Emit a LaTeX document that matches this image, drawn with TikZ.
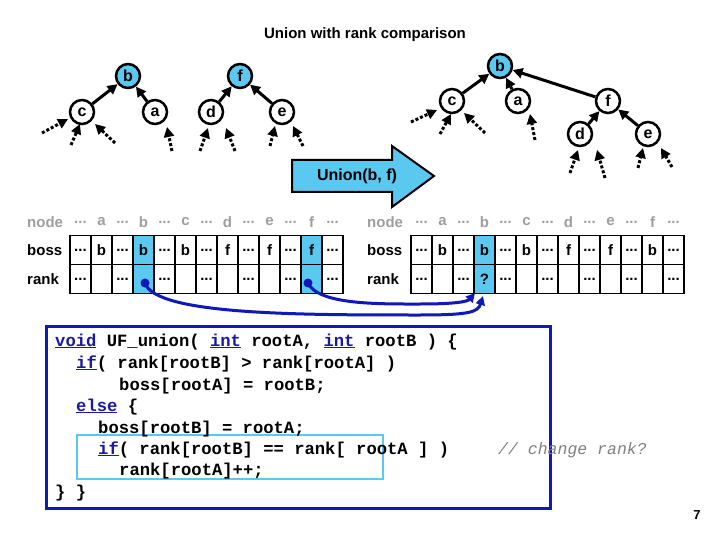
\documentclass[tikz,border=0pt]{standalone}
\usepackage{fontspec}
\setmainfont{Liberation Sans}
\newfontfamily\codefont{Liberation Mono}
\usetikzlibrary{arrows.meta}
\definecolor{cellblue}{HTML}{5BC8F0}
\definecolor{darkblue}{HTML}{1018B8}
\definecolor{kwblue}{HTML}{1A1AA0}
\newcommand\dts{{.}{.}{.}}
\begin{document}
\begin{tikzpicture}[x=1pt,y=-1pt,
  tn/.style={circle,draw,line width=2.5pt,minimum size=24pt,inner sep=0pt,font=\bfseries\fontsize{16}{16}\selectfont,fill=white},
  root/.style={tn,fill=cellblue},
  link/.style={line width=3pt,-{Triangle[length=10pt,width=10pt]},shorten >=0pt},
  dlink/.style={line width=3pt,dash pattern=on 3pt off 2pt,-{Triangle[length=10pt,width=10pt]}},
  cell/.style={draw,line width=1.3pt,minimum width=21pt,minimum height=29pt,inner sep=0pt,font=\bfseries\fontsize{15}{15}\selectfont},
  hcell/.style={cell,fill=cellblue},
  lab/.style={anchor=west,inner sep=0pt,font=\bfseries\fontsize{15}{15}\selectfont},
  hd/.style={font=\bfseries\fontsize{15}{15}\selectfont,text=gray!75},
  code/.style={anchor=base west,inner sep=0pt,font=\codefont\bfseries\fontsize{17.2}{17.2}\selectfont},
  curve/.style={line width=3pt,draw=darkblue,-{Triangle[length=9pt,width=9pt]}}
]
\useasboundingbox (0,0) rectangle (720,540);
\fill[white] (0,0) rectangle (720,540);
\node[font=\bfseries\fontsize{15}{15}\selectfont] (title) at (365,35) {Union with rank comparison};

% left trees
\node[root] (Lb) at (128,76) {b};
\node[tn] (Lc) at (82,112) {c};
\node[tn] (La) at (155,112) {a};
\node[root] (Lf) at (240,76) {f};
\node[tn] (Ld) at (211,112) {d};
\node[tn] (Le) at (282,112) {e};
\draw[link] (Lc) -- (Lb);
\draw[link] (La) -- (Lb);
\draw[link] (Ld) -- (Lf);
\draw[link] (Le) -- (Lf);
\foreach \n/\a/\b/\c/\d in {1/42/133/68/119, 2/71/145/80/124, 3/115/143/95/124, 4/172/151/167/127, 5/200/151/208/128, 6/235/151/226/128, 7/270/146/275/126, 8/303/146/293/126}{
  \coordinate (ls\n) at (\a,\b); \coordinate (le\n) at (\c,\d);
  \draw[dlink] (ls\n) -- (le\n);}

% right tree
\node[root] (Rb) at (500,66) {b};
\node[tn] (Rc) at (452,101) {c};
\node[tn] (Ra) at (518,101) {a};
\node[tn] (Rf) at (608,101) {f};
\node[tn] (Rd) at (580,134) {d};
\node[tn] (Re) at (648,134) {e};
\draw[link] (Rc) -- (Rb);
\draw[link] (Ra) -- (Rb);
\draw[link] (Rf) -- (Rb);
\draw[link] (Rd) -- (Rf);
\draw[link] (Re) -- (Rf);
\foreach \n/\a/\b/\c/\d in {1/411/122/437/110, 2/440/134/451/114, 3/485/133/464/113, 4/535/140/530/114, 5/570/173/578/150, 6/605/178/597/150, 7/638/168/643/148, 8/672/167/661/148}{
  \coordinate (rs\n) at (\a,\b); \coordinate (re\n) at (\c,\d);
  \draw[dlink] (rs\n) -- (re\n);}

% union arrow
\draw[line width=2pt,fill=cellblue] (292,160)--(392,160)--(392,146)--(434,176)--(392,207)--(392,192)--(292,192)--cycle;
\node[font=\bfseries\fontsize{16}{16}\selectfont] (un) at (357,176) {Union(b, f)};

% left table
\node[lab,text=gray!75] (Lnode) at (27,222) {node};
\node[lab] (Lboss) at (27,250) {boss};
\node[lab] (Lrank) at (27,279) {rank};
\foreach \i/\h/\bo/\ra/\s in {0/\dts/\dts/\dts/cell,1/a/b//cell,2/\dts/\dts/\dts/cell,3/b/b//hcell,4/\dts/\dts/\dts/cell,5/c/b//cell,6/\dts/\dts/\dts/cell,7/d/f//cell,8/\dts/\dts/\dts/cell,9/e/f//cell,10/\dts/\dts/\dts/cell,11/f/f//hcell,12/\dts/\dts/\dts/cell}{
  \node[hd] (LH\i) at (80.5+21*\i,222) {\h};
  \node[\s] (LB\i) at (80.5+21*\i,250) {\bo};
  \node[\s] (LR\i) at (80.5+21*\i,279) {\ra};}
% right table
\node[lab,text=gray!75] (Rnode) at (367,222) {node};
\node[lab] (Rboss) at (367,250) {boss};
\node[lab] (Rrank) at (367,279) {rank};
\foreach \i/\h/\bo/\ra/\s in {0/\dts/\dts/\dts/cell,1/a/b//cell,2/\dts/\dts/\dts/cell,3/b/b/?/hcell,4/\dts/\dts/\dts/cell,5/c/b//cell,6/\dts/\dts/\dts/cell,7/d/f//cell,8/\dts/\dts/\dts/cell,9/e/f//cell,10/\dts/\dts/\dts/cell,11/f/b//cell,12/\dts/\dts/\dts/cell}{
  \node[hd] (RH\i) at (421.5+21*\i,222) {\h};
  \node[\s] (RB\i) at (421.5+21*\i,250) {\bo};
  \node[\s] (RR\i) at (421.5+21*\i,279) {\ra};}

% curves
\coordinate (d1) at (145,283);
\coordinate (d2) at (308,283);
\coordinate (t1) at (483,296);
\coordinate (t2) at (475,293);
\fill[darkblue] (d1) circle (4.5pt);
\fill[darkblue] (d2) circle (4.5pt);
\draw[curve] (d1) .. controls (155,315) and (300,315) .. (420,315) .. controls (470,315) and (478,312) .. (t1);
\draw[curve] (d2) .. controls (318,305) and (380,304) .. (420,304) .. controls (460,304) and (468,301) .. (t2);

% code box
\node[draw=darkblue,line width=3pt,minimum width=504pt,minimum height=182pt,inner sep=0pt] (box) at (298,417) {};
\node[draw=cellblue,line width=2.5pt,minimum width=306pt,minimum height=44pt,inner sep=0pt] (inner) at (230,457) {};
\node[code] (c1) at (55,346) {\textcolor{kwblue}{\underline{void}} UF\_union( \textcolor{kwblue}{\underline{int}} rootA, \textcolor{kwblue}{\underline{int}} rootB ) \{};
\node[code] (c2) at (76,368) {\textcolor{kwblue}{\underline{if}}( rank[rootB] > rank[rootA] )};
\node[code] (c3) at (119,390) {boss[rootA] = rootB;};
\node[code] (c4) at (76,411) {\textcolor{kwblue}{\underline{else}} \{};
\node[code] (c5) at (98,433) {boss[rootB] = rootA;};
\node[code] (c6) at (98,454) {\textcolor{kwblue}{\underline{if}}( rank[rootB] == rank[ rootA ] )};
\node[code] (c7) at (119,475) {rank[rootA]++;};
\node[code] (c8) at (55,497) {\} \}};
\node[code,font=\codefont\itshape\fontsize{16.5}{16.5}\selectfont,text=gray] (cm) at (498,454) {// change rank?};
\node[font=\bfseries\fontsize{13}{13}\selectfont] (pg) at (697,515) {7};
\end{tikzpicture}
\end{document}
